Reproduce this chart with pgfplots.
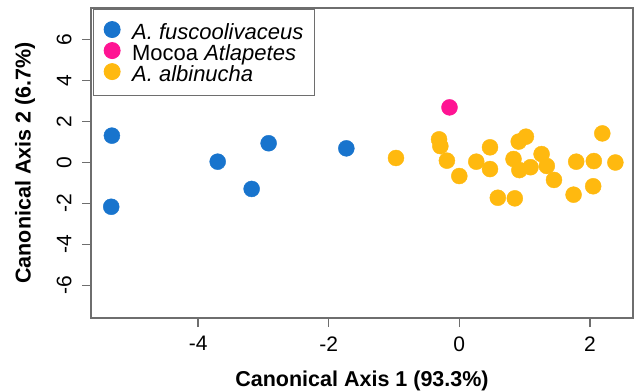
\documentclass[border=0pt]{standalone}
\usepackage{fontspec}
\setmainfont{Liberation Sans}
\usepackage{pgfplots}
\usepackage{pgfplotstable}
\pgfplotsset{compat=1.18}
\definecolor{cblue}{RGB}{24,116,205}
\definecolor{cpink}{RGB}{255,20,147}
\definecolor{corange}{RGB}{255,185,15}
\definecolor{frame}{RGB}{110,110,110}
\newcommand\ls{\rule[-6.2pt]{0pt}{21.7pt}}

\pgfplotstableread{
x y
-5.32 1.31
-5.33 -2.16
-3.70 0.04
-3.18 -1.29
-2.92 0.94
-1.73 0.69
}\fusco
\pgfplotstableread{
x y
-0.15 2.69
}\mocoa
\pgfplotstableread{
x y
-0.97 0.22
-0.31 1.13
-0.29 0.80
-0.19 0.09
0.00 -0.66
0.26 0.04
0.47 0.74
0.47 -0.32
0.59 -1.72
0.83 0.17
0.85 -1.75
0.91 1.02
1.02 1.26
0.92 -0.37
1.09 -0.23
1.26 0.41
1.34 -0.17
1.45 -0.85
1.79 0.04
1.75 -1.57
2.06 0.07
2.05 -1.16
2.19 1.42
2.39 0.00
}\albi

\begin{document}
\begin{tikzpicture}
\begin{axis}[name=ax, scale only axis, width=542pt, height=310pt,
  xmin=-5.64, xmax=2.66, ymin=-7.59, ymax=7.54,
  axis line style={frame, line width=1.3pt},
  xtick={-4,-2,0,2}, xticklabels={-4,-2,0,2},
  ytick={-6,-4,-2,0,2,4,6}, yticklabels={-6,-4,-2,0,2,4,6},
  tick align=outside, xtick pos=bottom, ytick pos=left,
  major tick length=9pt,
  tick style={frame, line width=1.3pt},
  tick label style={font=\fontsize{21}{21}\selectfont},
  yticklabel style={rotate=90, anchor=south},
  xticklabel shift=6pt, yticklabel shift=7pt,
  xlabel={Canonical Axis 1 (93.3\%)},
  ylabel={Canonical Axis 2 (6.7\%)},
  label style={font=\bfseries\fontsize{21.5}{24}\selectfont},
  xlabel style={at={(axis description cs:0.5,-0.2032)}, anchor=center},
  ylabel style={at={(axis description cs:-0.1218,0.5)}, anchor=center},
  legend style={at={(0,1)}, anchor=north west, xshift=2pt, yshift=-1pt,
    draw=frame, line width=0.9pt, font=\fontsize{22}{22}\selectfont,
    inner xsep=10.7pt, inner ysep=12.1pt,
    nodes={inner sep=0pt},
    column sep=12pt, row sep=1.3pt, cells={anchor=west}},
  legend image code/.code={\draw[#1] plot coordinates {(0pt,3pt)};},
]
\addplot[only marks, mark=*, mark size=8pt, color=cblue] table[x=x,y=y] {\fusco};
\addlegendentry{\ls\itshape A. fuscoolivaceus}
\addplot[only marks, mark=*, mark size=8pt, color=cpink] table[x=x,y=y] {\mocoa};
\addlegendentry{\ls Mocoa \itshape Atlapetes}
\addplot[only marks, mark=*, mark size=8pt, color=corange] table[x=x,y=y] {\albi};
\addlegendentry{\ls\itshape A. albinucha}
\end{axis}
\pgfresetboundingbox
\path[use as bounding box] ([xshift=-91pt,yshift=-73pt]ax.south west) rectangle ([xshift=4pt,yshift=8pt]ax.north east);
\end{tikzpicture}
\end{document}
